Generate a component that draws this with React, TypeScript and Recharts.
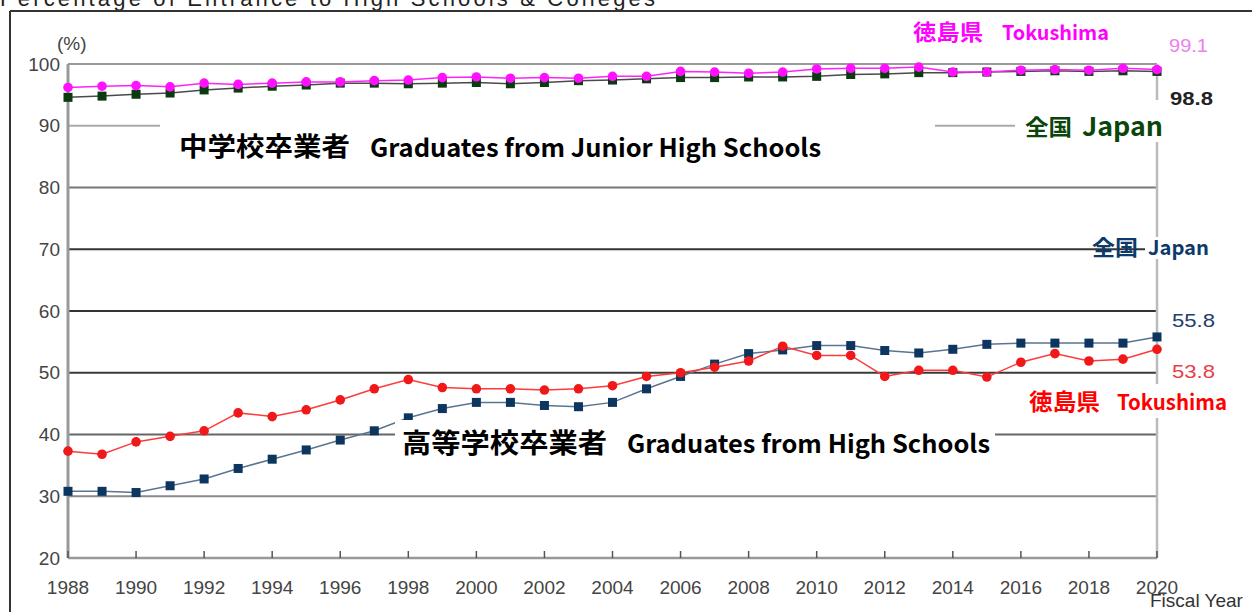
import React from "react";
import { LineChart, Line, XAxis, YAxis, CartesianGrid, ReferenceLine } from "recharts";

const years = [1988, 1989, 1990, 1991, 1992, 1993, 1994, 1995, 1996, 1997, 1998, 1999, 2000, 2001, 2002, 2003, 2004, 2005, 2006, 2007, 2008, 2009, 2010, 2011, 2012, 2013, 2014, 2015, 2016, 2017, 2018, 2019, 2020];
const jhTokushima = [96.2, 96.4, 96.5, 96.3, 96.9, 96.7, 96.9, 97.1, 97.1, 97.3, 97.4, 97.8, 97.9, 97.7, 97.8, 97.7, 98.0, 98.0, 98.8, 98.7, 98.5, 98.7, 99.2, 99.3, 99.3, 99.5, 98.7, 98.7, 99.0, 99.1, 99.0, 99.3, 99.1];
const jhJapan = [94.6, 94.8, 95.1, 95.3, 95.8, 96.1, 96.4, 96.6, 96.9, 96.9, 96.8, 96.9, 97.0, 96.8, 97.0, 97.3, 97.4, 97.6, 97.8, 97.8, 97.9, 97.9, 98.0, 98.3, 98.4, 98.6, 98.6, 98.7, 98.8, 98.9, 98.8, 98.9, 98.8];
const hsJapan = [30.8, 30.8, 30.6, 31.7, 32.8, 34.5, 36.0, 37.5, 39.1, 40.6, 42.7, 44.2, 45.2, 45.2, 44.7, 44.5, 45.2, 47.4, 49.4, 51.4, 53.1, 53.7, 54.4, 54.4, 53.6, 53.2, 53.8, 54.6, 54.8, 54.8, 54.8, 54.8, 55.8];
const hsTokushima = [37.3, 36.8, 38.8, 39.7, 40.6, 43.5, 42.9, 44.0, 45.6, 47.4, 48.9, 47.6, 47.4, 47.4, 47.2, 47.4, 47.9, 49.4, 50.0, 50.9, 51.9, 54.3, 52.8, 52.8, 49.4, 50.4, 50.4, 49.3, 51.7, 53.1, 51.9, 52.2, 53.8];

const xTicks = [1988, 1990, 1992, 1994, 1996, 1998, 2000, 2002, 2004, 2006, 2008, 2010, 2012, 2014, 2016, 2018, 2020];
const yTicks = [20, 30, 40, 50, 60, 70, 80, 90, 100];

const title = "Percentage of Entrance to High Schools & Colleges";
const jhLabelJa = "中学校卒業者";
const jhLabelEn = "Graduates from Junior High Schools";
const hsLabelJa = "高等学校卒業者";
const hsLabelEn = "Graduates from High Schools";
const prefJa = "徳島県";
const prefEn = "Tokushima";
const natJa = "全国";
const natEn = "Japan";
const lastJhTok = "99.1";
const lastJhJp = "98.8";
const lastHsJp = "55.8";
const lastHsTok = "53.8";

const rows = years.map((y, i) => ({
  year: y,
  jhT: jhTokushima[i],
  jhJ: jhJapan[i],
  hsJ: hsJapan[i],
  hsT: hsTokushima[i],
}));

const gridColors = ["#999", "#8a8a8a", "#666", "#3a3a3a", "#333", "#333", "#777", "#aaa", "#999"];

const cjk = '"Noto Sans CJK JP", "Noto Sans", sans-serif';
const sans = '"Liberation Sans", Arial, sans-serif';

const squareDot = (fill: string) => (props: any) => {
  const { cx, cy, key } = props;
  if (cx == null || cy == null) return <g key={key} />;
  return <rect key={key} x={cx - 4.5} y={cy - 4.5} width={9} height={9} fill={fill} />;
};
const circleDot = (fill: string) => (props: any) => {
  const { cx, cy, key } = props;
  if (cx == null || cy == null) return <g key={key} />;
  return <circle key={key} cx={cx} cy={cy} r={4.8} fill={fill} />;
};

const XTick = (props: any) => {
  const { x, y, payload } = props;
  return (
    <g>
      <line x1={x} x2={x} y1={y - 7} y2={y} stroke="#555" strokeWidth={1.5} />
      <text x={x} y={y + 36} textAnchor="middle" fontFamily={sans} fontSize={19} fill="#444">
        {payload.value}
      </text>
    </g>
  );
};

const gridLine = (props: any) => {
  const { x1, x2, y1, y2, index } = props;
  const c = gridColors[index] || "#555";
  return <line key={`g${index}`} x1={x1} x2={x2} y1={y1} y2={y2} stroke={c} strokeWidth={2} />;
};

export default function App() {
  return (
    <div style={{ position: "absolute", left: 0, top: 0, width: 1252, height: 612, background: "#fff", overflow: "hidden" }}>
      <LineChart width={1252} height={612} data={rows} margin={{ top: 64, right: 95, bottom: 24, left: 0 }}>
        <CartesianGrid vertical={false} horizontal={gridLine} />
        <XAxis
          dataKey="year"
          type="number"
          domain={[1988, 2020]}
          ticks={xTicks}
          interval={0}
          height={30}
          tickSize={0}
          tickMargin={0}
          tick={<XTick />}
          axisLine={{ stroke: "#999", strokeWidth: 2.5 }}
          tickLine={false}
        />
        <YAxis
          domain={[20, 100]}
          ticks={yTicks}
          interval={0}
          width={68}
          tickSize={0}
          tickMargin={8}
          tickLine={false}
          axisLine={{ stroke: "#999", strokeWidth: 3 }}
          tick={{ fontFamily: sans, fontSize: 19, fill: "#444" }}
        />
        <ReferenceLine x={2020} stroke="#bbb" strokeWidth={2.5} />
        <Line dataKey="jhJ" stroke="#4a4a4a" strokeWidth={1.5} dot={squareDot("#0a3a10")} isAnimationActive={false} />
        <Line dataKey="jhT" stroke="#ff22ff" strokeWidth={1.5} dot={circleDot("#ff10ff")} isAnimationActive={false} />
        <Line dataKey="hsJ" stroke="#5a7590" strokeWidth={1.5} dot={squareDot("#0c3560")} isAnimationActive={false} />
        <Line dataKey="hsT" stroke="#ff3a3a" strokeWidth={1.5} dot={circleDot("#f01818")} isAnimationActive={false} />
      </LineChart>
      <svg width={1252} height={612} style={{ position: "absolute", left: 0, top: 0, pointerEvents: "none" }}>
        <text x={0} y={6} fontFamily={sans} fontSize={22} fill="#222" textLength={655} lengthAdjust="spacing">{title}</text>
        <line x1={10} x2={1252} y1={11} y2={11} stroke="#333" strokeWidth={2} />
        <line x1={10} x2={10} y1={11} y2={612} stroke="#333" strokeWidth={2} />
        <text x={57} y={50} fontFamily={sans} fontSize={19} fill="#444">(%)</text>

        <rect x={160} y={112} width={775} height={64} fill="#fff" />
        <text x={179} y={156} fontFamily={cjk} fontWeight={700} fontSize={26} fill="#000" textLength={171} lengthAdjust="spacingAndGlyphs">{jhLabelJa}</text>
        <text x={370} y={157} fontFamily={cjk} fontWeight={700} fontSize={25} fill="#000" textLength={451} lengthAdjust="spacingAndGlyphs">{jhLabelEn}</text>

        <rect x={1015} y={100} width={150} height={42} fill="#fff" />
        <text x={1025} y={135} fontFamily={cjk} fontWeight={700} fontSize={22} fill="#0a460a" textLength={47} lengthAdjust="spacingAndGlyphs">{natJa}</text>
        <text x={1082} y={136} fontFamily={cjk} fontWeight={700} fontSize={26} fill="#0a460a" textLength={81} lengthAdjust="spacingAndGlyphs">{natEn}</text>

        <text x={913} y={40} fontFamily={cjk} fontWeight={700} fontSize={22} fill="#ff00ff" textLength={70} lengthAdjust="spacingAndGlyphs">{prefJa}</text>
        <text x={1002} y={40} fontFamily={cjk} fontWeight={700} fontSize={20} fill="#ff00ff" textLength={107} lengthAdjust="spacingAndGlyphs">{prefEn}</text>
        <text x={1169} y={52} fontFamily={sans} fontSize={18} fill="#ec80ec" textLength={39} lengthAdjust="spacingAndGlyphs">{lastJhTok}</text>

        <rect x={1160} y={86} width={70} height={24} fill="#fff" />
        <text x={1170} y={105} fontFamily={sans} fontWeight={700} fontSize={18} fill="#222" textLength={43} lengthAdjust="spacingAndGlyphs">{lastJhJp}</text>

        <rect x={1145} y={237} width={67} height={22} fill="#fff" />
        <text x={1092} y={255} fontFamily={cjk} fontWeight={700} fontSize={21} fill="#0c3a6a" textLength={46} lengthAdjust="spacingAndGlyphs">{natJa}</text>
        <text x={1148} y={255} fontFamily={cjk} fontWeight={700} fontSize={20} fill="#0c3a6a" textLength={61} lengthAdjust="spacingAndGlyphs">{natEn}</text>

        <text x={1172} y={327} fontFamily={sans} fontSize={19} fill="#24406a" textLength={43} lengthAdjust="spacingAndGlyphs">{lastHsJp}</text>
        <text x={1172} y={378} fontFamily={sans} fontSize={19} fill="#e8404a" textLength={43} lengthAdjust="spacingAndGlyphs">{lastHsTok}</text>

        <rect x={1022} y={384} width={210} height={34} fill="#fff" />
        <text x={1029} y={410} fontFamily={cjk} fontWeight={700} fontSize={23} fill="#ff0000" textLength={71} lengthAdjust="spacingAndGlyphs">{prefJa}</text>
        <text x={1117} y={410} fontFamily={cjk} fontWeight={700} fontSize={21} fill="#ff0000" textLength={110} lengthAdjust="spacingAndGlyphs">{prefEn}</text>

        <rect x={395} y={420} width={600} height={46} fill="#fff" />
        <text x={402} y={453} fontFamily={cjk} fontWeight={700} fontSize={27} fill="#000" textLength={205} lengthAdjust="spacingAndGlyphs">{hsLabelJa}</text>
        <text x={627} y={453} fontFamily={cjk} fontWeight={700} fontSize={25} fill="#000" textLength={363} lengthAdjust="spacingAndGlyphs">{hsLabelEn}</text>

        <text x={1150} y={607} fontFamily={sans} fontSize={19} fill="#333">Fiscal Year</text>
      </svg>
    </div>
  );
}
